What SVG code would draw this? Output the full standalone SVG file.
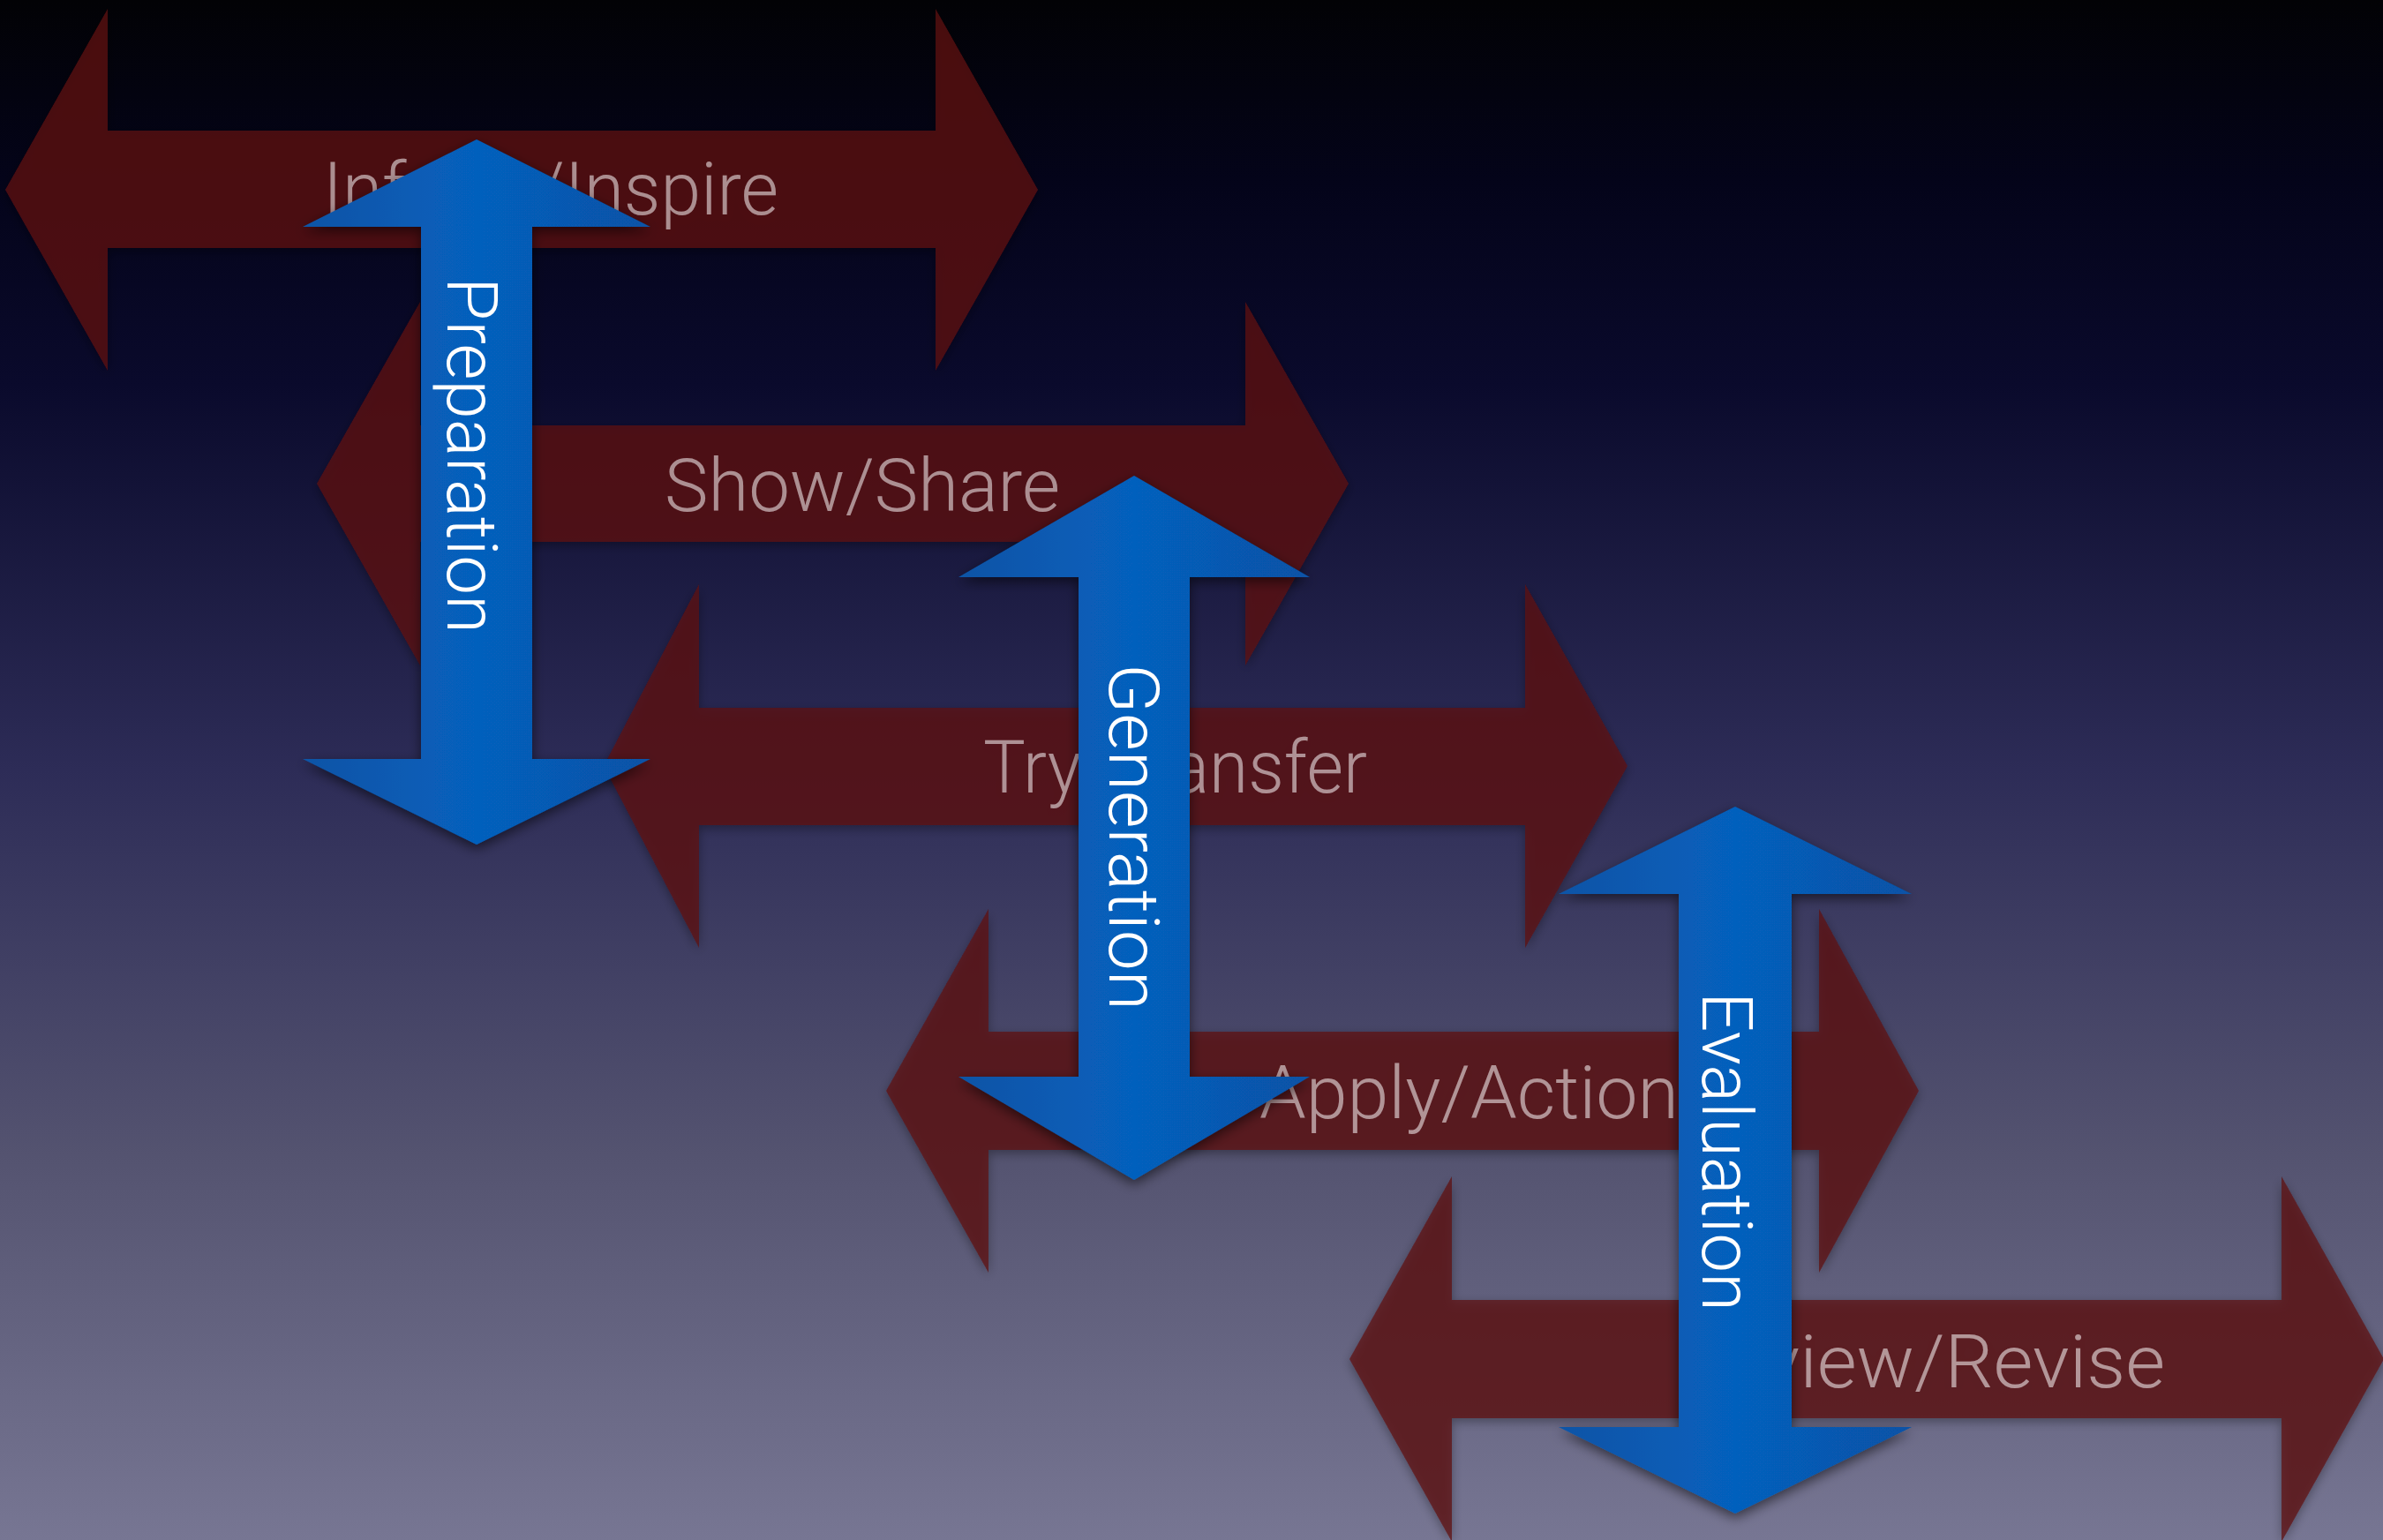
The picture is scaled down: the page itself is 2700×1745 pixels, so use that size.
<svg xmlns="http://www.w3.org/2000/svg" width="2700" height="1745" viewBox="0 0 2700 1745">
  <defs>
    <linearGradient id="bg" x1="0" y1="0" x2="0" y2="1">
      <stop offset="0" stop-color="#020205"/>
      <stop offset="0.12" stop-color="#04041a"/>
      <stop offset="0.25" stop-color="#0a0a2c"/>
      <stop offset="0.5" stop-color="#2d2c57"/>
      <stop offset="0.75" stop-color="#545370"/>
      <stop offset="1" stop-color="#777693"/>
    </linearGradient>
    <linearGradient id="blue" x1="0" y1="0" x2="1" y2="0">
      <stop offset="0" stop-color="#0a54a6"/>
      <stop offset="0.5" stop-color="#0660bd"/>
      <stop offset="1" stop-color="#0752a6"/>
    </linearGradient>
    <filter id="shRed" x="-10%" y="-10%" width="120%" height="130%">
      <feDropShadow dx="0" dy="4" stdDeviation="6" flood-color="#000" flood-opacity="0.45"/>
    </filter>
    <filter id="shBlue" x="-20%" y="-10%" width="140%" height="120%">
      <feDropShadow dx="0" dy="5" stdDeviation="7" flood-color="#000" flood-opacity="0.55"/>
    </filter>
  </defs>
  <style>
    .red { fill: #5f0f10; fill-opacity: 0.74; }
    .blue { fill: url(#blue); }
    .rtxt { font-family: Roboto, "Liberation Sans", Arial, sans-serif; font-weight: 300; font-size: 84px; fill: #ffffff; fill-opacity: 0.52; }
    .btxt { font-family: Roboto, "Liberation Sans", Arial, sans-serif; font-weight: 300; font-size: 79px; fill: #ffffff; }
  </style>
  <rect x="0" y="0" width="2700" height="1745" fill="url(#bg)"/>

  <g id="connectors">
    <g id="inform-inspire" filter="url(#shRed)">
      <path class="red" d="M6,215 L122,10 L122,148 L1060,148 L1060,10 L1176,215 L1060,420 L1060,281 L122,281 L122,420 Z"/>
      <text class="rtxt" x="366" y="243" textLength="516" lengthAdjust="spacingAndGlyphs">Inform/Inspire</text>
    </g>
    <g id="show-share" filter="url(#shRed)">
      <path class="red" d="M359,548 L476,342 L476,482 L1411,482 L1411,342 L1528,548 L1411,754 L1411,614 L476,614 L476,754 Z"/>
      <text class="rtxt" x="753" y="579" textLength="448" lengthAdjust="spacingAndGlyphs">Show/Share</text>
    </g>
    <g id="try-transfer" filter="url(#shRed)">
      <path class="red" d="M684,868 L792,662 L792,802 L1728,802 L1728,662 L1844,868 L1728,1074 L1728,935 L792,935 L792,1074 Z"/>
      <text class="rtxt" x="1114" y="898" textLength="435" lengthAdjust="spacingAndGlyphs">Try/Transfer</text>
    </g>
    <g id="apply-action" filter="url(#shRed)">
      <path class="red" d="M1004,1236 L1120,1030 L1120,1169 L2061,1169 L2061,1030 L2174,1236 L2061,1442 L2061,1303 L1120,1303 L1120,1442 Z"/>
      <text class="rtxt" x="1427" y="1267" textLength="475" lengthAdjust="spacingAndGlyphs">Apply/Action</text>
    </g>
    <g id="review-revise" filter="url(#shRed)">
      <path class="red" d="M1529,1540 L1645,1333 L1645,1473 L2585,1473 L2585,1333 L2701,1540 L2585,1747 L2585,1607 L1645,1607 L1645,1747 Z"/>
      <text class="rtxt" x="1898" y="1572" textLength="555" lengthAdjust="spacingAndGlyphs">Review/Revise</text>
    </g>
  </g>

  <g id="preparation" filter="url(#shBlue)">
    <path class="blue" d="M540,158 L737,257 L603,257 L603,860 L737,860 L540,957 L343,860 L477,860 L477,257 L343,257 Z"/>
    <text class="btxt" transform="translate(507,314) rotate(90)" textLength="404" lengthAdjust="spacingAndGlyphs">Preparation</text>
  </g>
  <g id="generation" filter="url(#shBlue)">
    <path class="blue" d="M1285,539 L1484,654 L1348,654 L1348,1220 L1484,1220 L1285,1337 L1086,1220 L1222,1220 L1222,654 L1086,654 Z"/>
    <text class="btxt" transform="translate(1257,752) rotate(90)" textLength="393" lengthAdjust="spacingAndGlyphs">Generation</text>
  </g>
  <g id="evaluation" filter="url(#shBlue)">
    <path class="blue" d="M1966,914 L2166,1013 L2030,1013 L2030,1617 L2166,1617 L1966,1715 L1766,1617 L1902,1617 L1902,1013 L1766,1013 Z"/>
    <text class="btxt" transform="translate(1929,1124) rotate(90)" textLength="362" lengthAdjust="spacingAndGlyphs">Evaluation</text>
  </g>
</svg>
